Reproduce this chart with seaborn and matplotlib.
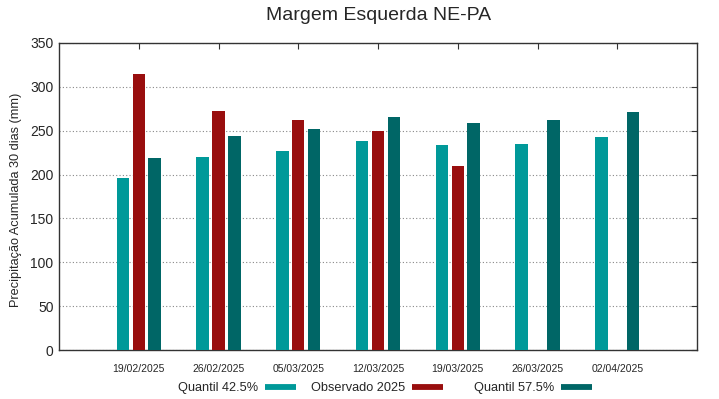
import matplotlib
matplotlib.use('Agg')
import matplotlib.pyplot as plt
from matplotlib.lines import Line2D
import seaborn as sns
import numpy as np
import pandas as pd

datas = ['19/02/2025', '26/02/2025', '05/03/2025', '12/03/2025',
         '19/03/2025', '26/03/2025', '02/04/2025']
quantil_425 = [196, 220, 227, 238, 234, 235, 243]
observado_2025 = [315, 273, 262, 250, 210, np.nan, np.nan]
quantil_575 = [219, 244, 252, 266, 259, 262, 271]
series = ['Quantil 42.5%', 'Observado 2025', 'Quantil 57.5%']
cores = ['#009999', '#990e0e', '#006666']

df = pd.concat([
    pd.DataFrame({'data': datas, 'serie': nome, 'valor': vals})
    for nome, vals in zip(series, [quantil_425, observado_2025, quantil_575])
], ignore_index=True)

sns.set_style('white')
plt.rcParams['font.family'] = ['Liberation Sans', 'DejaVu Sans']

W, H = 719, 399
fig = plt.figure(figsize=(W / 100, H / 100), dpi=100)
ax = fig.add_axes([59 / W, 1 - 350 / H, 638 / W, 307 / H])

sns.barplot(data=df, x='data', y='valor', hue='serie', hue_order=series,
            palette=cores, saturation=1, width=0.6, gap=0.22, errorbar=None,
            linewidth=0, ax=ax, legend=False, zorder=3)

ax.set_xlim(-1, 7)
ax.set_ylim(0, 350)
ax.set_yticks(np.arange(0, 351, 50))
ax.yaxis.grid(True, linestyle=(0, (1, 2)), color='#888888', linewidth=0.8)
ax.xaxis.grid(False)
ax.set_axisbelow(True)
ax.tick_params(axis='both', direction='in', length=4, top=True, right=True,
               color='#333333')
ax.tick_params(axis='x', labelsize=7.5, pad=10)
ax.tick_params(axis='y', labelsize=10, pad=4)
for s in ax.spines.values():
    s.set_color('#333333')
    s.set_linewidth(1.0)

ax.set_xlabel('')
ax.set_ylabel('Precipitação Acumulada 30 dias (mm)', fontsize=9.2)
ax.yaxis.set_label_coords(-0.058, 0.488)
fig.text(0.527, 1 - 16 / H, 'Margem Esquerda NE-PA', fontsize=14,
         ha='center', va='center')

# legenda no estilo gnuplot: texto alinhado a direita, amostra depois
fim_amostra = [296, 443, 592]
for nome, cor, xf in zip(series, cores, fim_amostra):
    h = Line2D([0], [0], color=cor, lw=4.2, solid_capstyle='butt')
    fig.legend([h], [nome], loc='center right', bbox_to_anchor=(xf / W, 1 - 388 / H),
               frameon=False, markerfirst=False, fontsize=9.2, borderpad=0,
               borderaxespad=0, handlelength=2.4, handletextpad=0.55)

fig.savefig('out.png', dpi=100)
